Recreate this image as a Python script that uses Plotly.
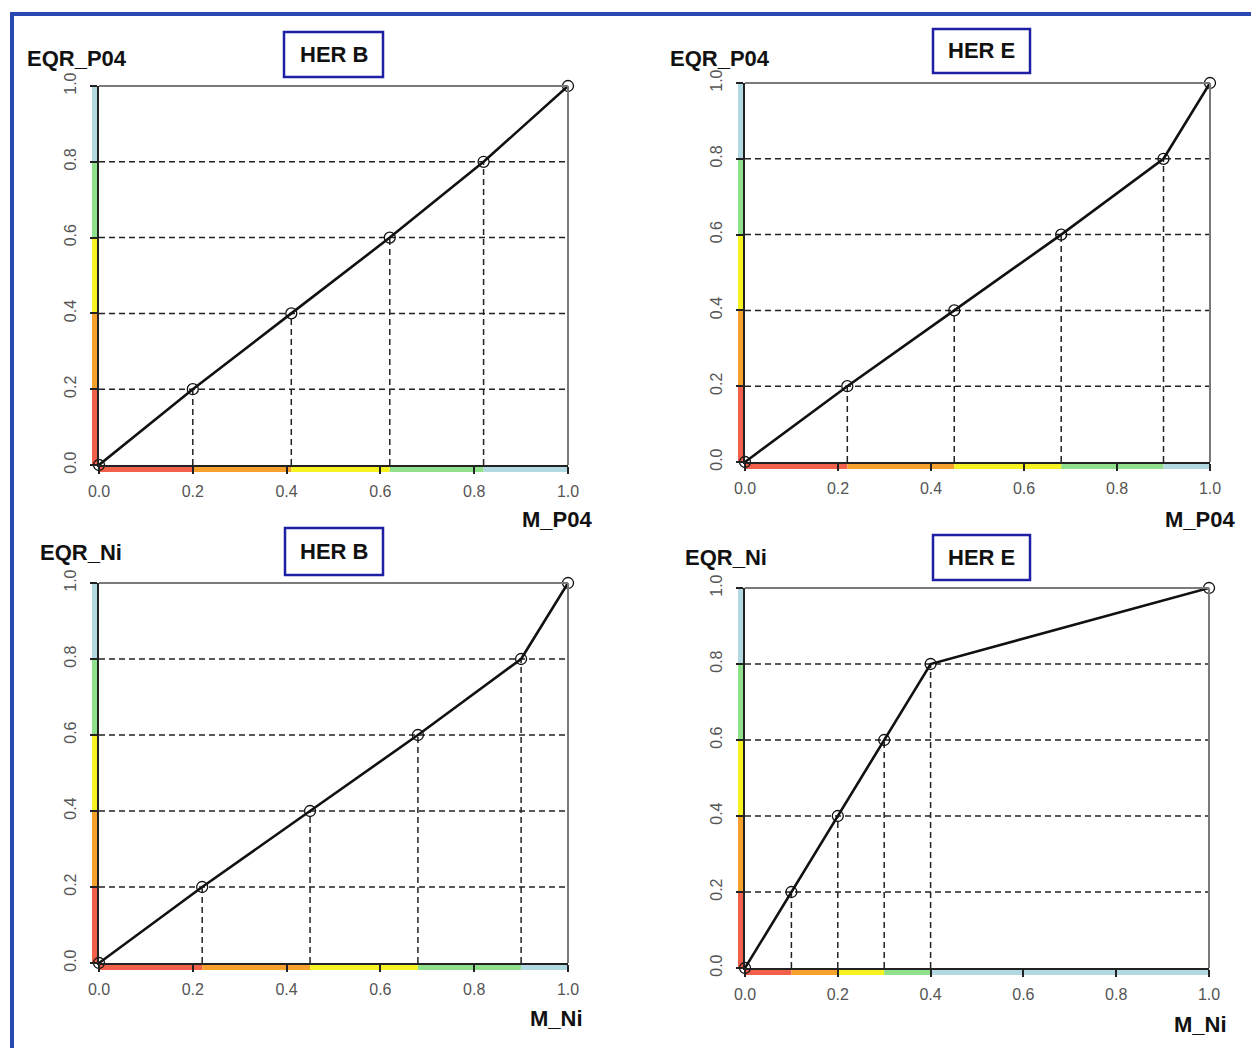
import plotly.graph_objects as go

W, H = 1259, 1048
OFF = 8  # page body margin of the written html

# ---------------- data ----------------
tick_vals = [0.0, 0.2, 0.4, 0.6, 0.8, 1.0]
tick_text = ["0.0", "0.2", "0.4", "0.6", "0.8", "1.0"]

eqr_classes = [0.0, 0.2, 0.4, 0.6, 0.8, 1.0]
m_po4_her_b = [0.0, 0.20, 0.41, 0.62, 0.82, 1.0]
m_po4_her_e = [0.0, 0.22, 0.45, 0.68, 0.90, 1.0]
m_ni_her_b = [0.0, 0.22, 0.45, 0.68, 0.90, 1.0]
m_ni_her_e = [0.0, 0.10, 0.20, 0.30, 0.40, 1.0]

class_colors = ["#F0604A", "#F5A12C", "#F7F222", "#8FE08B", "#B2D8E2"]

y_titles = ["EQR_P04", "EQR_P04", "EQR_Ni", "EQR_Ni"]
x_titles = ["M_P04", "M_P04", "M_Ni", "M_Ni"]
her_titles = ["HER B", "HER E", "HER B", "HER E"]
m_series = [m_po4_her_b, m_po4_her_e, m_ni_her_b, m_ni_her_e]

# ---------------- layout (pixels, page coordinates) ----------------
# plot boxes: (left, right, bottom, top)
plot_boxes = [(99, 568, 465, 86), (745, 1210, 462, 83), (99, 568, 963, 583), (745, 1209, 968, 588)]
ytitle_pos = [(77, 58), (720, 58), (81, 552), (726, 557)]
xtitle_pos = [(557, 520), (1200, 520), (556, 1018), (1200, 1024)]
her_boxes = [(284, 383, 32, 77), (933, 1030, 29, 73), (285, 383, 528, 575), (933, 1030, 535, 580)]


def px(x):
    return (x - OFF) / W


def py(y):
    return 1 - (y - OFF) / H


fig = go.Figure()
shapes = []
annotations = []

tick_font = dict(family="Liberation Sans, Arial, sans-serif", size=16, color="#555555")
bold_font = dict(family="Liberation Sans, Arial, sans-serif", size=22, color="#111111")
dash_style = dict(color="#222222", width=1.5, dash="6px,4px")

for i in range(4):
    n = i + 1
    xa = "x" if n == 1 else f"x{n}"
    ya = "y" if n == 1 else f"y{n}"
    xkey = "xaxis" if n == 1 else f"xaxis{n}"
    ykey = "yaxis" if n == 1 else f"yaxis{n}"
    L, R, B, T = plot_boxes[i]
    m = m_series[i]
    e = eqr_classes

    fig.layout[xkey] = dict(
        domain=[px(L), px(R)], range=[0, 1], anchor=ya, automargin=False,
        showline=True, linecolor="#222222", linewidth=1.6,
        ticks="outside", ticklen=7, tickwidth=1.6, tickcolor="#222222",
        tickvals=tick_vals, ticktext=tick_text, tickfont=tick_font,
        ticklabelstandoff=4,
        showgrid=False, zeroline=False, fixedrange=True,
    )
    fig.layout[ykey] = dict(
        domain=[py(B), py(T)], range=[0, 1], anchor=xa, automargin=False,
        showline=True, linecolor="#222222", linewidth=1.6,
        ticks="outside", ticklen=7, tickwidth=1.6, tickcolor="#222222",
        tickvals=tick_vals, ticktext=tick_text, tickfont=tick_font,
        tickangle=-90, ticklabelstandoff=8,
        showgrid=False, zeroline=False, fixedrange=True,
    )

    # horizontal dashed lines (full width) at the inner class boundaries
    hx, hy = [], []
    for v in e[1:-1]:
        hx += [0, 1, None]
        hy += [v, v, None]
    fig.add_trace(go.Scatter(x=hx, y=hy, mode="lines", line=dash_style,
                             xaxis=xa, yaxis=ya, showlegend=False, hoverinfo="skip"))
    # vertical dashed lines from axis up to each point
    vx, vy = [], []
    for mv, ev in zip(m[1:-1], e[1:-1]):
        vx += [mv, mv, None]
        vy += [0, ev, None]
    fig.add_trace(go.Scatter(x=vx, y=vy, mode="lines", line=dash_style,
                             xaxis=xa, yaxis=ya, showlegend=False, hoverinfo="skip"))
    # main curve
    fig.add_trace(go.Scatter(
        x=m, y=e, mode="lines+markers",
        line=dict(color="#111111", width=2.6),
        marker=dict(symbol="circle-open", size=11, color="#111111", line=dict(width=1.3, color="#111111")),
        cliponaxis=False, xaxis=xa, yaxis=ya, showlegend=False,
    ))

    # coloured class bands along the axes
    for k in range(5):
        shapes.append(dict(
            type="rect", xref=xa, yref=f"{ya} domain", layer="below",
            x0=m[k], x1=m[k + 1], ysizemode="pixel", yanchor=0, y0=-7, y1=0,
            fillcolor=class_colors[k], line=dict(width=0),
        ))
        shapes.append(dict(
            type="rect", xref=f"{xa} domain", yref=ya, layer="below",
            y0=e[k], y1=e[k + 1], xsizemode="pixel", xanchor=0, x0=-7, x1=0,
            fillcolor=class_colors[k], line=dict(width=0),
        ))
    # grey frame top / right
    shapes.append(dict(type="line", xref=f"{xa} domain", yref=f"{ya} domain",
                       x0=0, x1=1, y0=1, y1=1, line=dict(color="#7a7a7a", width=2)))
    shapes.append(dict(type="line", xref=f"{xa} domain", yref=f"{ya} domain",
                       x0=1, x1=1, y0=0, y1=1, line=dict(color="#7a7a7a", width=2)))

    # titles
    annotations.append(dict(text="<b>" + y_titles[i] + "</b>", x=px(ytitle_pos[i][0]), y=py(ytitle_pos[i][1]),
                            xref="paper", yref="paper", showarrow=False,
                            xanchor="center", yanchor="middle", font=bold_font))
    annotations.append(dict(text="<b>" + x_titles[i] + "</b>", x=px(xtitle_pos[i][0]), y=py(xtitle_pos[i][1]),
                            xref="paper", yref="paper", showarrow=False,
                            xanchor="center", yanchor="middle", font=bold_font))
    bl, br, bt, bb = her_boxes[i]
    shapes.append(dict(type="rect", xref="paper", yref="paper",
                       x0=px(bl), x1=px(br), y0=py(bb), y1=py(bt),
                       line=dict(color="#1f1fa6", width=2.5), fillcolor="white"))
    annotations.append(dict(text="<b>" + her_titles[i] + "</b>", x=px((bl + br) / 2), y=py((bt + bb) / 2),
                            xref="paper", yref="paper", showarrow=False,
                            xanchor="center", yanchor="middle",
                            font=dict(family="Liberation Sans, Arial, sans-serif", size=22, color="#111111")))

# outer blue frame (top and left)
shapes.append(dict(type="line", xref="paper", yref="paper", x0=px(10), x1=1, y0=py(14), y1=py(14),
                   line=dict(color="#2a48b2", width=4)))
shapes.append(dict(type="line", xref="paper", yref="paper", x0=px(12), x1=px(12), y0=0, y1=py(12),
                   line=dict(color="#2a48b2", width=4)))

fig.update_layout(
    width=W, height=H, margin=dict(l=0, r=0, t=0, b=0, autoexpand=False),
    paper_bgcolor="white", plot_bgcolor="white",
    shapes=shapes, annotations=annotations, showlegend=False,
)

fig.write_html("out.html", config={"displayModeBar": False})
